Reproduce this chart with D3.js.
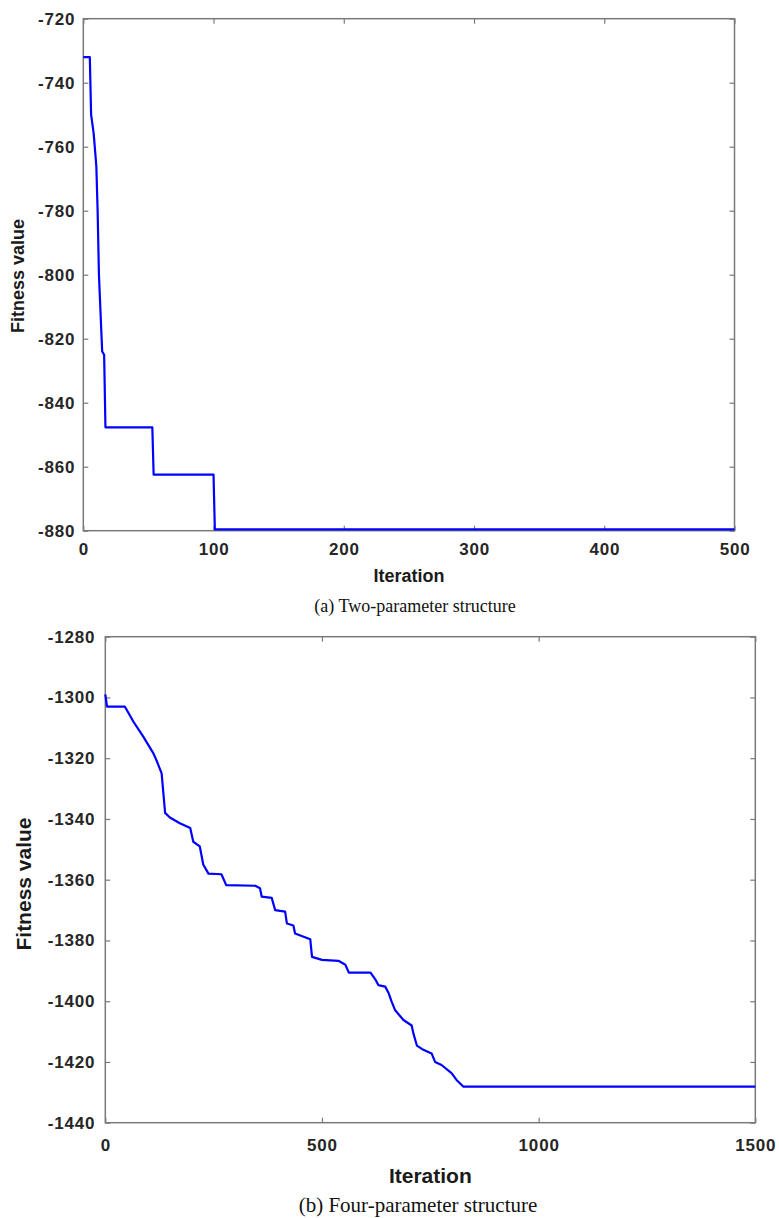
<!DOCTYPE html>
<html>
<head>
<meta charset="utf-8">
<script src="https://cdn.jsdelivr.net/npm/d3@7"></script>
<style>
  body { margin: 0; background: #fff; }
  .tick text { font-family: "Liberation Sans", Arial, sans-serif; font-weight: bold; fill: #262626; }
</style>
</head>
<body>
<svg id="chart" width="779" height="1218"></svg>
<script>
// (a) two-parameter structure
const iterA = [0, 5, 6, 8, 10, 11, 12, 14.5, 16, 17, 53, 54, 100, 101, 500];
const fitA = [-732, -732, -750, -756, -766, -780, -800, -824, -825, -847.7, -847.7, -862.5, -862.5, -879.6, -879.6];
const xTicksA = [0, 100, 200, 300, 400, 500];
const yTicksA = [-720, -740, -760, -780, -800, -820, -840, -860, -880];

// (b) four-parameter structure
const iterB = [0, 4, 45, 65, 88, 111, 119, 130, 138, 149, 172, 196, 203, 218, 226, 238, 268, 279, 346, 357, 361, 384, 392, 415, 419, 434, 438, 473, 477, 500, 538, 554, 562, 612, 623, 630, 646, 654, 661, 669, 688, 707, 711, 719, 734, 753, 761, 776, 799, 811, 826, 1500];
const fitB = [-1299, -1303, -1303, -1308, -1313, -1318.4, -1321, -1325, -1338, -1339.5, -1341.4, -1343, -1347.5, -1349, -1355, -1358, -1358.2, -1361.8, -1362, -1362.8, -1365.6, -1366, -1370, -1370.5, -1374.4, -1375.1, -1377.7, -1379.6, -1385.4, -1386.4, -1386.7, -1388, -1390.6, -1390.6, -1392.8, -1394.7, -1395.2, -1397.4, -1400.2, -1403, -1406.2, -1408, -1410.6, -1414.6, -1416, -1417.2, -1420, -1421, -1423.7, -1426, -1428.1, -1428.1];
const xTicksB = [0, 500, 1000, 1500];
const yTicksB = [-1280, -1300, -1320, -1340, -1360, -1380, -1400, -1420, -1440];

const svg = d3.select("#chart");
const plain = (d) => String(d);

function drawPanel(p) {
  const x = d3.scaleLinear().domain(p.xDomain).range([p.left, p.right]);
  const y = d3.scaleLinear().domain(p.yDomain).range([p.bottom, p.top]);
  const g = svg.append("g");

  const styleAxis = (sel) => {
    sel.select(".domain").remove();
    sel.selectAll(".tick line").attr("stroke", "#7a7a7a").attr("stroke-width", 1.2);
    sel.selectAll(".tick text")
      .style("font-size", p.tickFont + "px")
      .style("letter-spacing", "0.8px");
  };

  g.append("g")
    .attr("transform", `translate(0,${p.bottom})`)
    .call(d3.axisBottom(x).tickValues(p.xTicks).tickSize(-5).tickPadding(p.xPad).tickFormat(plain))
    .call(styleAxis);
  g.append("g")
    .attr("transform", `translate(0,${p.top})`)
    .call(d3.axisTop(x).tickValues(p.xTicks).tickSize(-5).tickFormat(""))
    .call(styleAxis);
  g.append("g")
    .attr("transform", `translate(${p.left},0)`)
    .call(d3.axisLeft(y).tickValues(p.yTicks).tickSize(-5).tickPadding(p.yPad).tickFormat(plain))
    .call(styleAxis);
  g.append("g")
    .attr("transform", `translate(${p.right},0)`)
    .call(d3.axisRight(y).tickValues(p.yTicks).tickSize(-5).tickFormat(""))
    .call(styleAxis);

  g.append("rect")
    .attr("x", p.left).attr("y", p.top)
    .attr("width", p.right - p.left).attr("height", p.bottom - p.top)
    .attr("fill", "none").attr("stroke", "#7a7a7a").attr("stroke-width", 1.5);

  const line = d3.line().x((d) => x(d[0])).y((d) => y(d[1]));
  g.append("path")
    .datum(d3.zip(p.xs, p.ys))
    .attr("fill", "none")
    .attr("stroke", "#0000ff")
    .attr("stroke-width", 2.2)
    .attr("stroke-linejoin", "round")
    .attr("d", line);

  g.append("text")
    .attr("x", (p.left + p.right) / 2).attr("y", p.xLabelY)
    .attr("text-anchor", "middle").attr("dominant-baseline", "middle")
    .style("font-family", "'Liberation Sans', Arial, sans-serif")
    .style("font-weight", "bold").style("font-size", p.labelFont + "px")
    .attr("fill", "#1a1a1a")
    .text("Iteration");

  g.append("text")
    .attr("transform", `translate(${p.yLabelX},${p.yLabelY}) rotate(-90)`)
    .attr("text-anchor", "middle").attr("dominant-baseline", "middle")
    .style("font-family", "'Liberation Sans', Arial, sans-serif")
    .style("font-weight", "bold").style("font-size", p.labelFont + "px")
    .attr("fill", "#1a1a1a")
    .text("Fitness value");

  g.append("text")
    .attr("x", p.captionX).attr("y", p.captionY)
    .attr("text-anchor", "middle").attr("dominant-baseline", "middle")
    .style("font-family", "'Liberation Serif', 'Times New Roman', serif")
    .style("font-size", p.captionFont + "px")
    .attr("fill", "#111")
    .text(p.caption);
}

drawPanel({
  left: 83.3, right: 734.5, top: 18.7, bottom: 530.7,
  xDomain: [0, 500], yDomain: [-880, -720],
  xTicks: xTicksA, yTicks: yTicksA,
  xs: iterA, ys: fitA,
  tickFont: 17, xPad: 12, yPad: 8,
  labelFont: 18, xLabelY: 577, yLabelX: 19, yLabelY: 276,
  caption: "(a) Two-parameter structure", captionX: 415, captionY: 608, captionFont: 18
});

drawPanel({
  left: 105.3, right: 755.3, top: 636.7, bottom: 1122.7,
  xDomain: [0, 1500], yDomain: [-1440, -1280],
  xTicks: xTicksB, yTicks: yTicksB,
  xs: iterB, ys: fitB,
  tickFont: 17, xPad: 16, yPad: 10,
  labelFont: 21, xLabelY: 1177, yLabelX: 25, yLabelY: 884,
  caption: "(b) Four-parameter structure", captionX: 418, captionY: 1207, captionFont: 21
});
</script>
</body>
</html>
